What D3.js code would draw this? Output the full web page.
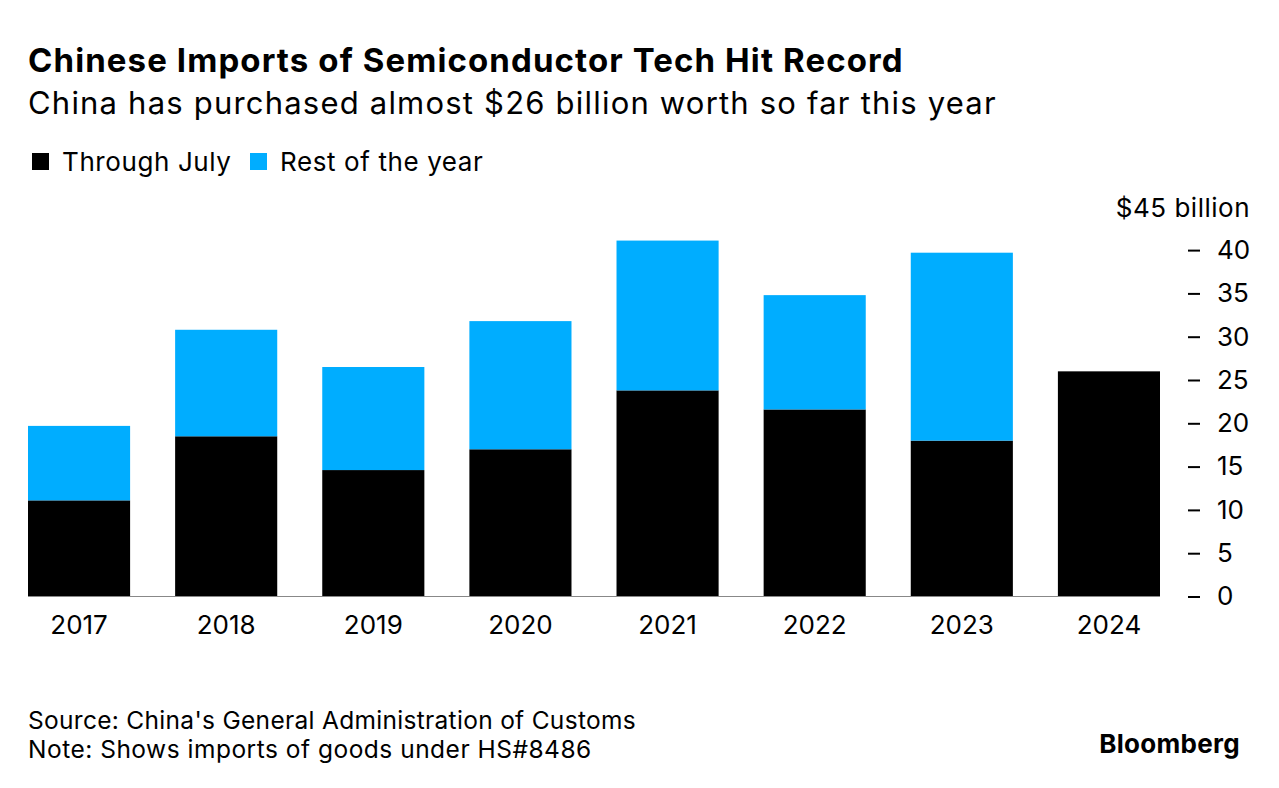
<!DOCTYPE html>
<html>
<head>
<meta charset="utf-8">
<script src="https://cdn.jsdelivr.net/npm/d3@7"></script>
<style>
  body { margin: 0; background: #fff; }
  text { font-family: Inter, "Liberation Sans", Arial, sans-serif; fill: #000; }
</style>
</head>
<body>
<div id="chart"></div>
<script>
// Data ($ billion)
var years = ["2017", "2018", "2019", "2020", "2021", "2022", "2023", "2024"];
var throughJuly = [11.1, 18.5, 14.6, 17.0, 23.8, 21.6, 18.0, 26.0];
var restOfYear = [8.6, 12.3, 11.9, 14.8, 17.3, 13.2, 21.7, 0];
var yTicks = [0, 5, 10, 15, 20, 25, 30, 35, 40];

var seriesNames = ["Through July", "Rest of the year"];
var seriesColors = ["#000000", "#00adff"];

var svgWidth = 1279;
var svgHeight = 788;

var svg = d3.select("#chart")
    .append("svg")
    .attr("width", svgWidth)
    .attr("height", svgHeight);

// Titles
svg.append("text")
    .attr("x", 28)
    .attr("y", 72)
    .style("font-size", "33px")
    .style("font-weight", "bold")
    .style("letter-spacing", "1.1px")
    .text("Chinese Imports of Semiconductor Tech Hit Record");

svg.append("text")
    .attr("x", 28)
    .attr("y", 114)
    .style("font-size", "31px")
    .style("letter-spacing", "1.2px")
    .text("China has purchased almost $26 billion worth so far this year");

// Legend
var legend = svg.append("g").attr("transform", "translate(32,152)");
var legendX = [0, 218];
seriesNames.forEach(function(name, i) {
    var item = legend.append("g").attr("transform", `translate(${legendX[i]},0)`);
    item.append("rect")
        .attr("width", 17)
        .attr("height", 17)
        .attr("y", 1)
        .attr("fill", seriesColors[i]);
    item.append("text")
        .attr("x", 30)
        .attr("y", 19)
        .style("font-size", "26px")
        .style("letter-spacing", "0.6px")
        .text(name);
});

// Scales
var x = d3.scaleBand()
    .domain(years)
    .range([28, 1160])
    .paddingInner(0.306)
    .paddingOuter(0);

var y = d3.scaleLinear()
    .domain([0, 45])
    .range([596.5, 206.8]);

// Stack
var table = years.map(function(yr, i) {
    return { year: yr, through: throughJuly[i], rest: restOfYear[i] };
});
var stacked = d3.stack().keys(["through", "rest"])(table);

svg.append("g")
    .selectAll("g")
    .data(stacked)
    .enter()
    .append("g")
    .attr("fill", (d, i) => seriesColors[i])
    .selectAll("rect")
    .data(d => d)
    .enter()
    .append("rect")
    .attr("x", d => x(d.data.year))
    .attr("width", x.bandwidth())
    .attr("y", d => y(d[1]))
    .attr("height", d => y(d[0]) - y(d[1]));

// Baseline
svg.append("line")
    .attr("x1", 28)
    .attr("x2", 1160)
    .attr("y1", y(0))
    .attr("y2", y(0))
    .attr("stroke", "#888")
    .attr("stroke-width", 1);

// X axis labels
var xAxis = d3.axisBottom(x).tickSize(0).tickPadding(0);
var xg = svg.append("g")
    .attr("transform", `translate(0,${y(0)})`)
    .call(xAxis);
xg.select(".domain").remove();
xg.selectAll("text")
    .attr("dy", null)
    .attr("y", 37)
    .style("font-size", "26px");

// Y axis on the right, dash ticks with left-aligned numbers
var yAxis = d3.axisRight(y).tickValues(yTicks).tickSize(0).tickPadding(0);
var yg = svg.append("g")
    .attr("transform", "translate(1217,0)")
    .call(yAxis);
yg.select(".domain").remove();
yg.selectAll(".tick text")
    .attr("x", 0)
    .style("font-size", "26px")
    .attr("text-anchor", "start");
yg.selectAll(".tick").append("line")
    .attr("x1", -29)
    .attr("x2", -17)
    .attr("stroke", "#000")
    .attr("stroke-width", 2);

svg.append("text")
    .attr("x", 1250)
    .attr("y", 217)
    .attr("text-anchor", "end")
    .style("font-size", "26px")
    .style("letter-spacing", "0.5px")
    .text("$45 billion");

// Footer
svg.append("text")
    .attr("x", 28)
    .attr("y", 729)
    .style("font-size", "24.5px")
    .style("letter-spacing", "0.3px")
    .text("Source: China's General Administration of Customs");

svg.append("text")
    .attr("x", 28)
    .attr("y", 758)
    .style("font-size", "24.5px")
    .style("letter-spacing", "0.5px")
    .text("Note: Shows imports of goods under HS#8486");

svg.append("text")
    .attr("x", 1240)
    .attr("y", 753)
    .attr("text-anchor", "end")
    .style("font-size", "26px")
    .style("font-weight", "bold")
    .style("letter-spacing", "0.3px")
    .text("Bloomberg");
</script>
</body>
</html>
